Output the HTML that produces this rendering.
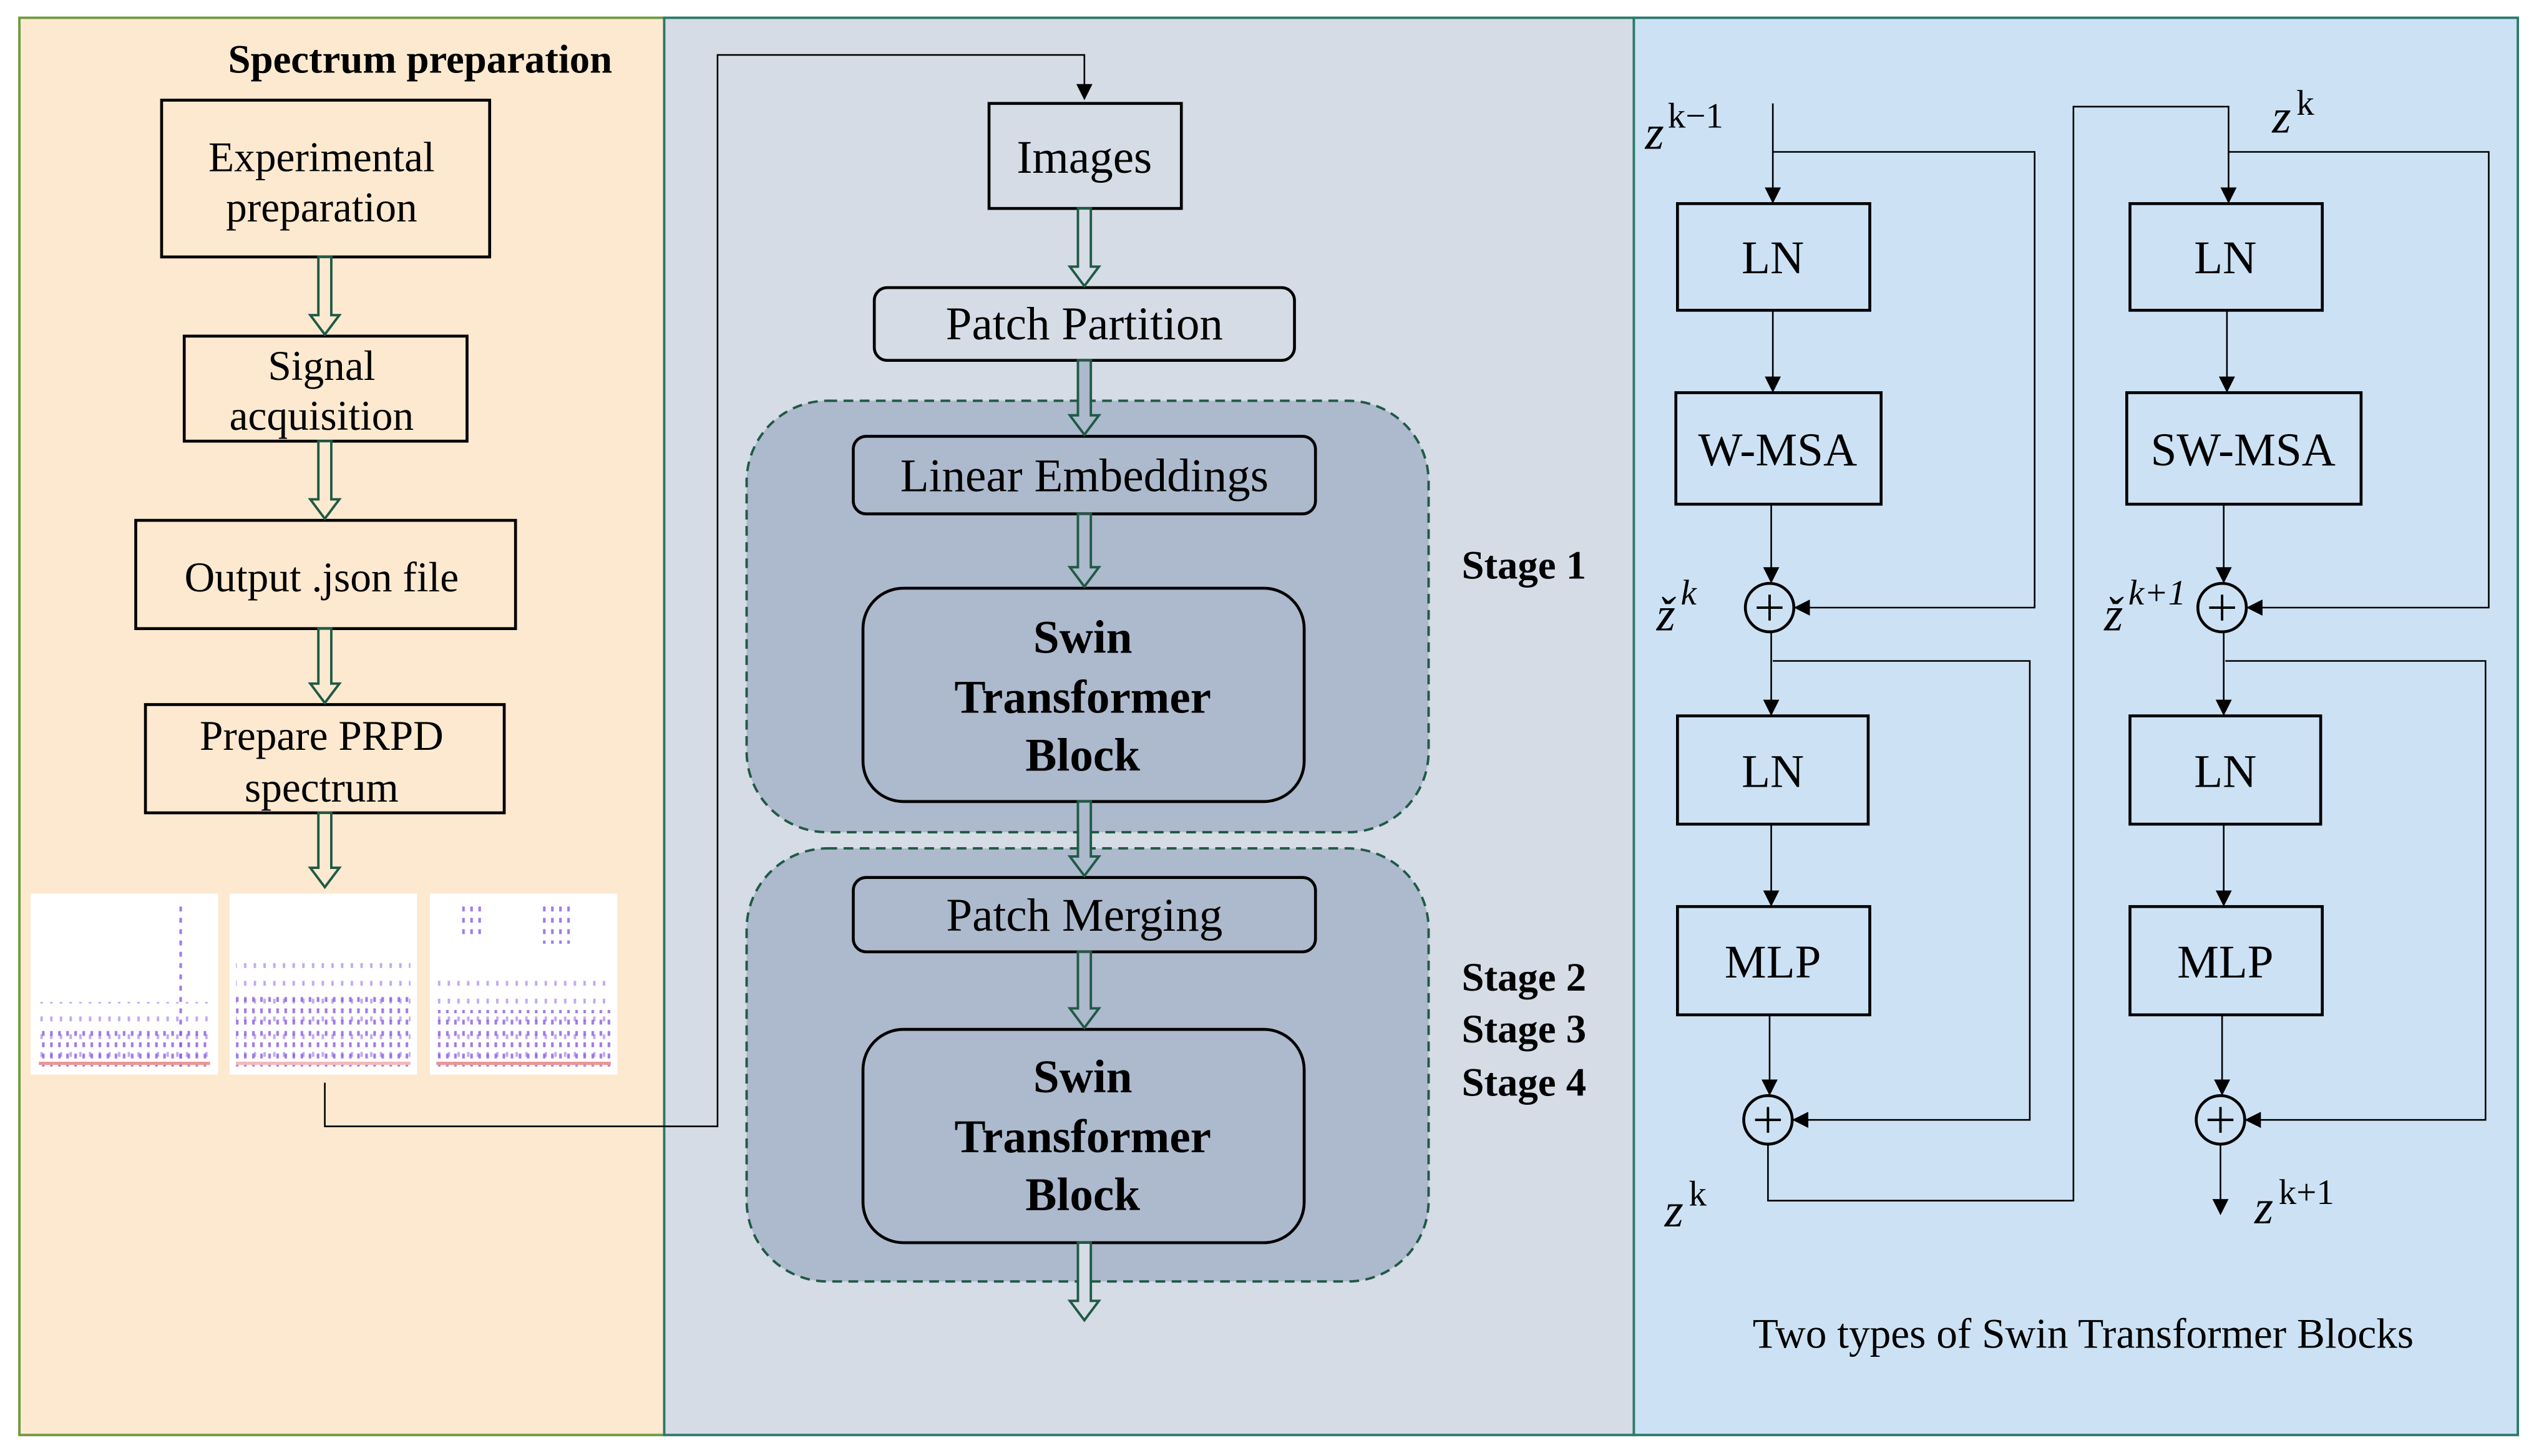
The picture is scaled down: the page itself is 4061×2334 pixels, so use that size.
<!DOCTYPE html>
<html><head><meta charset="utf-8"><style>html,body{margin:0;padding:0;background:#fff}svg{display:block}</style></head>
<body>
<svg xmlns="http://www.w3.org/2000/svg" width="4061" height="2334" viewBox="0 0 1568 901" preserveAspectRatio="none" font-family="'Liberation Serif', serif">
<defs>
<marker id="ah" markerWidth="10" markerHeight="10" refX="9" refY="5" orient="auto" markerUnits="userSpaceOnUse"><path d="M0,0 L10,5 L0,10 Z" fill="#000"/></marker>
<pattern id="d1" width="5" height="7" patternUnits="userSpaceOnUse"><rect x="1" y="1" width="1.6" height="3" fill="#8a5ae0" opacity="0.8"/></pattern>
<pattern id="d2" width="6" height="11" patternUnits="userSpaceOnUse"><rect x="1" y="2" width="1.5" height="3" fill="#9a70e6" opacity="0.6"/></pattern>
</defs>
<rect width="1568" height="901" fill="#fff"/>
<rect x="12" y="11" width="399" height="877" fill="#FCE9CF" stroke="#6E9A3C" stroke-width="1.5"/>
<rect x="411" y="11" width="600" height="877" fill="#D5DCE6" stroke="#2A7A6A" stroke-width="1.5"/>
<rect x="1011" y="11" width="547" height="877" fill="#CCE2F4" stroke="#2A7A6A" stroke-width="1.5"/>

<text x="260" y="45" font-size="25" font-weight="bold" text-anchor="middle">Spectrum preparation</text>
<g fill="none" stroke="#000" stroke-width="1.8">
<rect x="100" y="62" width="203" height="97"/>
<rect x="114" y="208" width="175" height="65"/>
<rect x="84" y="322" width="235" height="67"/>
<rect x="90" y="436" width="222" height="67"/>
</g>
<g font-size="26" text-anchor="middle">
<text x="199" y="106">Experimental</text><text x="199" y="137">preparation</text>
<text x="199" y="235">Signal</text><text x="199" y="266">acquisition</text>
<text x="199" y="366">Output .json file</text>
<text x="199" y="464">Prepare PRPD</text><text x="199" y="496">spectrum</text>
</g>
<g fill="#FCE9CF" stroke="#1F5A45" stroke-width="1.5">
<path d="M197,159 V195 H192 L201,207 L210,195 H205 V159 Z"/>
<path d="M197,273 V309 H192 L201,321 L210,309 H205 V273 Z"/>
<path d="M197,389 V423 H192 L201,435 L210,423 H205 V389 Z"/>
<path d="M197,503 V537 H192 L201,549 L210,537 H205 V503 Z"/>
</g>
<rect x="19" y="553" width="116" height="112" fill="#fff"/>
<rect x="142" y="553" width="116" height="112" fill="#fff"/>
<rect x="266" y="553" width="116" height="112" fill="#fff"/>
<rect x="24" y="620" width="106" height="40" fill="url(#d2)"/>
<rect x="24" y="635" width="106" height="25" fill="url(#d1)"/>
<rect x="108" y="560" width="5" height="100" fill="url(#d1)"/>
<rect x="146" y="590" width="108" height="70" fill="url(#d2)"/>
<rect x="146" y="615" width="108" height="45" fill="url(#d1)"/>
<rect x="270" y="600" width="108" height="60" fill="url(#d2)"/>
<rect x="270" y="625" width="108" height="35" fill="url(#d1)"/>
<rect x="284" y="560" width="14" height="22" fill="url(#d1)"/>
<rect x="335" y="560" width="18" height="24" fill="url(#d1)"/>
<g fill="#e05050"><rect x="24" y="657" width="106" height="2" opacity="0.6"/><rect x="146" y="657" width="108" height="2" opacity="0.4"/><rect x="270" y="657" width="108" height="2" opacity="0.6"/></g>
<path d="M201,670 V697 H444 V34 H671 V61" fill="none" stroke="#000" stroke-width="1" marker-end="url(#ah)"/>

<rect x="462" y="248" width="422" height="267" rx="50" fill="#ADB9CC" stroke="#1F5A45" stroke-width="1.5" stroke-dasharray="6,4"/>
<rect x="462" y="525" width="422" height="268" rx="50" fill="#ADB9CC" stroke="#1F5A45" stroke-width="1.5" stroke-dasharray="6,4"/>
<g stroke="#000" stroke-width="1.8">
<rect x="612" y="64" width="119" height="65" fill="#D5DCE6"/>
<rect x="541" y="178" width="260" height="45" rx="8" fill="#D5DCE6"/>
<rect x="528" y="270" width="286" height="48" rx="8" fill="#ADB9CC"/>
<rect x="534" y="364" width="273" height="132" rx="25" fill="#ADB9CC"/>
<rect x="528" y="543" width="286" height="46" rx="8" fill="#ADB9CC"/>
<rect x="534" y="637" width="273" height="132" rx="25" fill="#ADB9CC"/>
</g>
<g font-size="29" text-anchor="middle">
<text x="671" y="107">Images</text>
<text x="671" y="210">Patch Partition</text>
<text x="671" y="304">Linear Embeddings</text>
<text x="671" y="576">Patch Merging</text>
</g>
<g font-size="29" font-weight="bold" text-anchor="middle">
<text x="670" y="404">Swin</text><text x="670" y="441">Transformer</text><text x="670" y="477">Block</text>
<text x="670" y="676">Swin</text><text x="670" y="713">Transformer</text><text x="670" y="749">Block</text>
</g>
<g font-size="25" font-weight="bold" text-anchor="middle">
<text x="943" y="358">Stage 1</text>
<text x="943" y="613">Stage 2</text>
<text x="943" y="645">Stage 3</text>
<text x="943" y="678">Stage 4</text>
</g>
<g fill="#D5DCE6" stroke="#1F5A45" stroke-width="1.5">
<path d="M667,129 V165 H662 L671,177 L680,165 H675 V129 Z"/>
<path d="M667,223 V257 H662 L671,269 L680,257 H675 V223 Z" fill="#ADB9CC"/>
<path d="M667,318 V351 H662 L671,363 L680,351 H675 V318 Z" fill="#ADB9CC"/>
<path d="M667,496 V530 H662 L671,542 L680,530 H675 V496 Z" fill="#ADB9CC"/>
<path d="M667,589 V624 H662 L671,636 L680,624 H675 V589 Z" fill="#ADB9CC"/>
<path d="M667,769 V805 H662 L671,817 L680,805 H675 V769 Z"/>
</g>

<g fill="none" stroke="#000" stroke-width="1.8">
<rect x="1038" y="126" width="119" height="66"/>
<rect x="1037" y="243" width="127" height="69"/>
<rect x="1038" y="443" width="118" height="67"/>
<rect x="1038" y="561" width="119" height="67"/>
<rect x="1318" y="126" width="119" height="66"/>
<rect x="1316" y="243" width="145" height="69"/>
<rect x="1318" y="443" width="118" height="67"/>
<rect x="1318" y="561" width="119" height="67"/>
<circle cx="1095" cy="376" r="15"/><circle cx="1375" cy="376" r="15"/>
<circle cx="1094" cy="693" r="15"/><circle cx="1374" cy="693" r="15"/>
</g>
<g stroke="#000" stroke-width="1.5">
<path d="M1087,376 h16 M1095,368 v16 M1367,376 h16 M1375,368 v16 M1086,693 h16 M1094,685 v16 M1366,693 h16 M1374,685 v16"/>
</g>
<g fill="none" stroke="#000" stroke-width="1">
<path d="M1097,64 V125" marker-end="url(#ah)"/>
<path d="M1097,94 H1259 V376 H1111" marker-end="url(#ah)"/>
<path d="M1097,192 V242" marker-end="url(#ah)"/>
<path d="M1096,312 V360" marker-end="url(#ah)"/>
<path d="M1096,391 V442" marker-end="url(#ah)"/>
<path d="M1097,409 H1256 V693 H1110" marker-end="url(#ah)"/>
<path d="M1096,510 V560" marker-end="url(#ah)"/>
<path d="M1095,628 V677" marker-end="url(#ah)"/>
<path d="M1094,708 V743 H1283 V66 H1379 V125" marker-end="url(#ah)"/>
<path d="M1379,94 H1540 V376 H1391" marker-end="url(#ah)"/>
<path d="M1378,192 V242" marker-end="url(#ah)"/>
<path d="M1376,312 V360" marker-end="url(#ah)"/>
<path d="M1376,391 V442" marker-end="url(#ah)"/>
<path d="M1377,409 H1538 V693 H1390" marker-end="url(#ah)"/>
<path d="M1376,510 V560" marker-end="url(#ah)"/>
<path d="M1375,628 V677" marker-end="url(#ah)"/>
<path d="M1374,708 V751" marker-end="url(#ah)"/>
</g>
<g font-size="29" text-anchor="middle">
<text x="1097" y="169">LN</text><text x="1100" y="288">W-MSA</text>
<text x="1097" y="487">LN</text><text x="1097" y="605">MLP</text>
<text x="1377" y="169">LN</text><text x="1388" y="288">SW-MSA</text>
<text x="1377" y="487">LN</text><text x="1377" y="605">MLP</text>
</g>
<g font-size="30" font-style="italic">
<text x="1018" y="92">z</text><text x="1032" y="79" font-size="22" font-style="normal">k−1</text>
<text x="1406" y="82">z</text><text x="1421" y="71" font-size="22" font-style="normal">k</text>
<text x="1025" y="390">ž</text><text x="1040" y="374" font-size="22">k</text>
<text x="1302" y="390">ž</text><text x="1317" y="374" font-size="22">k+1</text>
<text x="1030" y="759">z</text><text x="1045" y="746" font-size="22" font-style="normal">k</text>
<text x="1395" y="757">z</text><text x="1410" y="745" font-size="22" font-style="normal">k+1</text>
</g>
<text x="1289" y="834" font-size="26" text-anchor="middle">Two types of Swin Transformer Blocks</text>
</svg>
</body></html>
